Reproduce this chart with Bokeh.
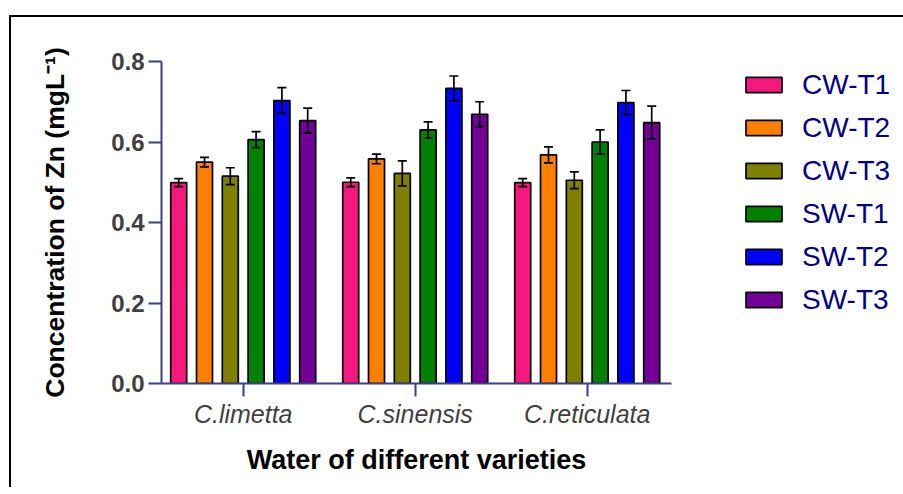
import numpy as np
import pandas as pd
from bokeh.plotting import figure
from bokeh.models import (Range1d, FixedTicker, PrintfTickFormatter, Whisker, TeeHead,
                          ColumnDataSource, Legend, LegendItem)
from bokeh.embed import file_html
from bokeh.resources import INLINE

# ---------------- data ----------------
varieties = ["C.limetta", "C.sinensis", "C.reticulata"]
treatments = ["CW-T1", "CW-T2", "CW-T3", "SW-T1", "SW-T2", "SW-T3"]
colors = ["#F5187F", "#FF8000", "#808000", "#008000", "#0000FF", "#730096"]

cw_t1 = [0.499, 0.500, 0.499]
cw_t2 = [0.550, 0.558, 0.568]
cw_t3 = [0.515, 0.522, 0.505]
sw_t1 = [0.606, 0.630, 0.600]
sw_t2 = [0.703, 0.733, 0.698]
sw_t3 = [0.653, 0.669, 0.648]

cw_t1_err = [0.010, 0.011, 0.010]
cw_t2_err = [0.012, 0.012, 0.020]
cw_t3_err = [0.021, 0.031, 0.021]
sw_t1_err = [0.020, 0.020, 0.030]
sw_t2_err = [0.032, 0.031, 0.030]
sw_t3_err = [0.031, 0.031, 0.041]

y_ticks = [0.0, 0.2, 0.4, 0.6, 0.8]

means = [cw_t1, cw_t2, cw_t3, sw_t1, sw_t2, sw_t3]
errs = [cw_t1_err, cw_t2_err, cw_t3_err, sw_t1_err, sw_t2_err, sw_t3_err]

# ---------------- figure ----------------
FONT = "Liberation Sans"
AXIS_COLOR = "#3D3F8C"

p = figure(frame_width=510, frame_height=322, output_backend="svg", toolbar_location=None,
           x_range=Range1d(0.525, 3.49), y_range=Range1d(0, 0.8),
           min_border_left=150, min_border_right=10,
           min_border_top=44, min_border_bottom=104)
p.styles = {"border-top": "2px solid black", "border-left": "2px solid black",
            "margin-top": "15px", "margin-left": "9px"}
p.outline_line_color = None
p.xgrid.visible = False
p.ygrid.visible = False

group_pos = np.arange(1, len(varieties) + 1)
pitch = 0.15
bar_w = 0.093

items = []
for i, (t, m, e) in enumerate(zip(treatments, means, errs)):
    df = pd.DataFrame({"x": group_pos + (i - 2.5) * pitch, "top": m, "err": e})
    df["upper"] = df["top"] + df["err"]
    df["lower"] = df["top"] - df["err"]
    src = ColumnDataSource(df)
    r = p.vbar(x="x", top="top", width=bar_w, source=src, fill_color=colors[i],
               line_color="black", line_width=1.7)
    wk = Whisker(source=src, base="x", upper="upper", lower="lower",
                 line_color="black", line_width=1.7, level="annotation",
                 upper_head=TeeHead(size=9, line_color="black", line_width=1.7),
                 lower_head=TeeHead(size=9, line_color="black", line_width=1.7))
    p.add_layout(wk)
    items.append(LegendItem(label=t, renderers=[r]))

legend = Legend(items=items, location=(70, 67.5), glyph_width=45, glyph_height=19,
                label_standoff=16, label_text_font_size="28px", label_text_color="#000080",
                label_text_font=FONT, spacing=11, padding=0, margin=0,
                border_line_color=None, background_fill_alpha=0)
p.add_layout(legend, "right")

# y axis
p.yaxis.ticker = FixedTicker(ticks=y_ticks)
p.yaxis.formatter = PrintfTickFormatter(format="%.1f")
p.yaxis.axis_label = "Concentration of Zn (mgL\u207b\u00b9)"
p.yaxis.axis_label_text_font = FONT
p.yaxis.axis_label_text_font_style = "bold"
p.yaxis.axis_label_text_font_size = "26.5px"
p.yaxis.axis_label_text_color = "black"
p.yaxis.axis_label_standoff = 38
p.yaxis.major_label_text_font = FONT
p.yaxis.major_label_text_font_style = "bold"
p.yaxis.major_label_text_font_size = "24px"
p.yaxis.major_label_text_color = "#404040"
p.yaxis.major_label_standoff = 4

# x axis
p.xaxis.ticker = FixedTicker(ticks=list(group_pos))
p.xaxis.major_label_overrides = {int(g): v for g, v in zip(group_pos, varieties)}
p.xaxis.axis_label = "Water of different varieties"
p.xaxis.axis_label_text_font = FONT
p.xaxis.axis_label_text_font_style = "bold"
p.xaxis.axis_label_text_font_size = "27px"
p.xaxis.axis_label_text_color = "black"
p.xaxis.axis_label_standoff = 14
p.xaxis.major_label_text_font = FONT
p.xaxis.major_label_text_font_style = "italic"
p.xaxis.major_label_text_font_size = "25px"
p.xaxis.major_label_text_color = "#404040"
p.xaxis.major_label_standoff = 3

for ax in (p.xaxis, p.yaxis):
    ax.axis_line_color = AXIS_COLOR
    ax.axis_line_width = 2
    ax.major_tick_line_color = AXIS_COLOR
    ax.major_tick_line_width = 2
    ax.major_tick_out = 13
    ax.major_tick_in = 0
    ax.minor_tick_out = 0
    ax.minor_tick_in = 0

open("out.html", "w").write(file_html(p, INLINE))
